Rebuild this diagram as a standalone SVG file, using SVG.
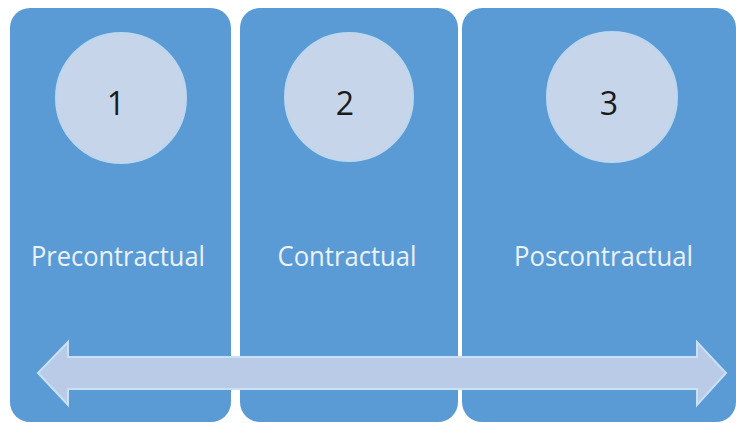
<svg xmlns="http://www.w3.org/2000/svg" width="736" height="423" viewBox="0 0 736 423">
<style>
.panel{fill:#5b9bd5;}
.circ{fill:#c6d5ea;stroke:#bdd7ee;stroke-width:2;}
.num{font-family:"Open Sans","Liberation Sans",sans-serif;font-size:32px;fill:#1a1a1a;text-anchor:middle;}
.lbl{font-family:"Open Sans","Liberation Sans",sans-serif;font-size:28px;fill:#eaf2fb;text-anchor:middle;}
.arrow{fill:#b9cbe6;stroke:#c9e0f7;stroke-width:2;}
</style>
<rect width="736" height="423" fill="#ffffff"/>
<g id="panel1">
<rect class="panel" x="10" y="8" width="221" height="414" rx="20" ry="20"/>
<circle class="circ" cx="121" cy="98" r="65"/>
<text class="num" x="116" y="115">1</text>
<text class="lbl" x="118" y="266" textLength="174" lengthAdjust="spacingAndGlyphs">Precontractual</text>
</g>
<g id="panel2">
<rect class="panel" x="240" y="8" width="218" height="414" rx="20" ry="20"/>
<circle class="circ" cx="349" cy="97" r="64"/>
<text class="num" x="345" y="115">2</text>
<text class="lbl" x="347" y="266" textLength="139" lengthAdjust="spacingAndGlyphs">Contractual</text>
</g>
<g id="panel3">
<rect class="panel" x="462" y="8" width="274" height="414" rx="20" ry="20"/>
<circle class="circ" cx="612" cy="97" r="65"/>
<text class="num" x="609" y="115">3</text>
<text class="lbl" x="603.5" y="266" textLength="179" lengthAdjust="spacingAndGlyphs">Poscontractual</text>
</g>
<g id="connectors">
<path class="arrow" d="M38,373 L68,342 L68,357 L697,357 L697,342 L726,373 L697,405 L697,389 L68,389 L68,405 Z"/>
</g>
</svg>
